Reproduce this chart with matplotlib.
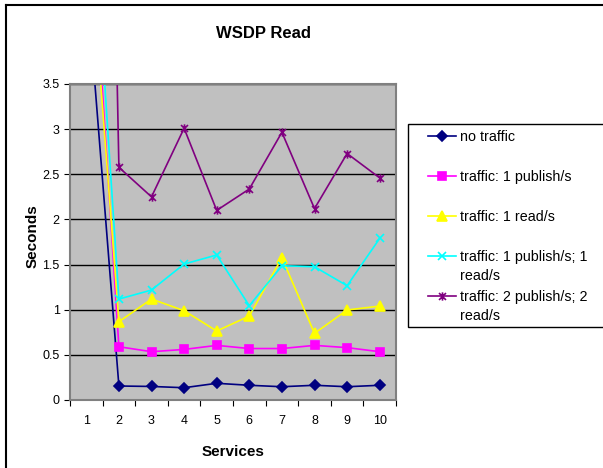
import numpy as np
from matplotlib import pyplot as plt
from matplotlib.lines import Line2D
from matplotlib.patches import Rectangle
from matplotlib.path import Path

plt.rcParams['font.family'] = ['Liberation Sans', 'DejaVu Sans']

# data (x=1 values lie above the axis top)
services = [1, 2, 3, 4, 5, 6, 7, 8, 9, 10]
no_traffic = [4.7, 0.155, 0.15, 0.136, 0.185, 0.163, 0.147, 0.163, 0.147, 0.163]
pub1 = [6.2, 0.59, 0.535, 0.56, 0.605, 0.57, 0.57, 0.605, 0.58, 0.535]
read1 = [5.6, 0.867, 1.118, 0.989, 0.764, 0.93, 1.576, 0.738, 0.997, 1.04]
pub1_read1 = [6.6, 1.118, 1.218, 1.506, 1.606, 1.044, 1.487, 1.476, 1.266, 1.79]
pub2_read2 = [20.5, 2.577, 2.25, 3.01, 2.10, 2.337, 2.965, 2.12, 2.73, 2.46]
labels = ["no traffic", "traffic: 1 publish/s", "traffic: 1 read/s",
          "traffic: 1 publish/s; 1\nread/s", "traffic: 2 publish/s; 2\nread/s"]

# excel style star marker: x with a vertical bar
star = Path([(-1, -1), (1, 1), (-1, 1), (1, -1), (0, -1.2), (0, 1.2)],
            [Path.MOVETO, Path.LINETO, Path.MOVETO, Path.LINETO,
             Path.MOVETO, Path.LINETO])

series = [
    (no_traffic, '#000080', 'D', 5),
    (pub1, '#FF00FF', 's', 5.5),
    (read1, '#FFFF00', '^', 6.5),
    (pub1_read1, '#00FFFF', 'x', 6),
    (pub2_read2, '#800080', star, 6),
]

W, H = 603, 468
fig = plt.figure(figsize=(W/100, H/100), dpi=100)
ax = fig.add_axes([70/W, 68/H, 326/W, 316/H])
ax.set_facecolor('#C0C0C0')

for vals, col, mk, ms in series:
    ax.plot(services, vals, color=col, marker=mk, markersize=ms,
            markeredgewidth=1.2, linewidth=1.2)

ax.set_xlim(0.5, 10.5)
ax.set_ylim(0, 3.5)
ax.set_yticks(np.arange(0, 3.51, 0.5))
ax.set_yticklabels(['0', '0.5', '1', '1.5', '2', '2.5', '3', '3.5'])
ax.yaxis.grid(True, color='black', linewidth=1)
ax.set_axisbelow(True)

ax.set_xticks(np.arange(0.5, 10.6, 1))
ax.set_xticklabels([])
ax.set_xticks(services, minor=True)
ax.set_xticklabels([str(s) for s in services], minor=True)
ax.tick_params(axis='x', which='minor', length=0, pad=11, labelsize=9)
ax.tick_params(axis='x', which='major', length=4, direction='out', color='black')
ax.tick_params(axis='y', length=4, direction='out', labelsize=9, color='black')

for s in ax.spines.values():
    s.set_color('#808080')
    s.set_linewidth(1.5)

ax.set_xlabel('Services', fontsize=11, fontweight='bold')
ax.xaxis.set_label_coords(0.5, -45/316)
ax.set_ylabel('Seconds', fontsize=11, fontweight='bold')
ax.yaxis.set_label_coords(-30/326, 0.52)
fig.text(264/W, 1 - 33/H, 'WSDP Read', fontsize=12, fontweight='bold',
         ha='center', va='center')

# legend box runs off the right edge, entries laid out like the excel one
fig.add_artist(Rectangle((408/W, 1 - 327/H), 200/W, 203/H,
                         transform=fig.transFigure, facecolor='white',
                         edgecolor='black', linewidth=1))
for i, ((vals, col, mk, ms), lab) in enumerate(zip(series, labels)):
    yc = 136 + 40 * i
    fig.add_artist(Line2D([428/W, 456/W], [1 - yc/H, 1 - yc/H], color=col,
                          linewidth=1.2, transform=fig.transFigure))
    fig.add_artist(Line2D([442/W], [1 - yc/H], color=col, marker=mk,
                          markersize=ms, markeredgewidth=1.2, linestyle='none',
                          transform=fig.transFigure))
    for j, line in enumerate(lab.split('\n')):
        fig.text(460/W, 1 - (yc + 19 * j + 1)/H, line, fontsize=10.3,
                 ha='left', va='center')

# chart border
fig.add_artist(Line2D([6/W, 6/W], [0, 1 - 5/H], color='black', linewidth=1.5,
                      transform=fig.transFigure))
fig.add_artist(Line2D([6/W, 1], [1 - 5/H, 1 - 5/H], color='black', linewidth=1.5,
                      transform=fig.transFigure))

fig.savefig('out.png', dpi=100)
